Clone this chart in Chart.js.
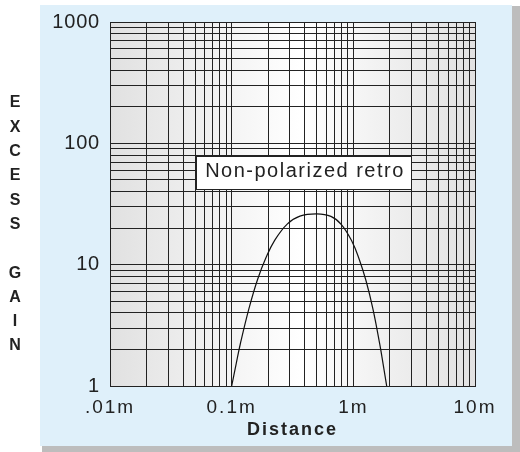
<!DOCTYPE html>
<html><head><meta charset="utf-8">
<script src="https://cdn.jsdelivr.net/npm/chart.js@4/dist/chart.umd.min.js"></script>
<style>html,body{margin:0;padding:0;background:#fff;}canvas{display:block;}</style>
</head><body>
<canvas id="c" width="520" height="452"></canvas>
<script>
// ---- data ----
const distance = [0.1, 0.109, 0.118, 0.139, 0.163, 0.192, 0.225, 0.286, 0.364, 0.5, 0.654, 0.798, 0.973, 1.11, 1.27, 1.45, 1.65, 1.76, 1.88];
const gain     = [1, 1.53, 2.24, 4.38, 7.52, 11.5, 15.8, 21.6, 25.1, 26.2, 25.0, 21.4, 15.6, 11.3, 7.4, 4.3, 2.2, 1.5, 1];
const seriesName = 'Non-polarized retro';

const xGridValues = [0.01,0.02,0.03,0.04,0.05,0.06,0.07,0.08,0.09,0.1,0.2,0.3,0.4,0.5,0.6,0.7,0.8,0.9,1,2,3,4,5,6,7,8,9,10];
const yGridValues = [1,2,3,4,5,6,7,8,9,10,20,30,40,50,60,70,80,90,100,200,300,400,500,600,700,800,900,1000];
const xLabelValues = [0.01, 0.1, 1, 10];
const xLabelTexts  = ['.01m', '0.1m', '1m', '10m'];
const yLabelValues = [1, 10, 100, 1000];
const yLabelTexts  = ['1', '10', '100', '1000'];
const xTitle = 'Distance';
const yTitleLetters = ['E','X','C','E','S','S','','G','A','I','N'];

const FONT = '"Liberation Sans", Arial, Helvetica, sans-serif';
const INK = '#222';

function spaced(scale, fnName, spacing) {
  const orig = scale[fnName];
  if (!orig || orig._spaced) return;
  const w = function(...args) {
    const ctx = this.ctx;
    ctx.save();
    ctx.letterSpacing = spacing;
    const r = orig.apply(this, args);
    ctx.restore();
    return r;
  };
  w._spaced = true;
  scale[fnName] = w;
}

const decor = {
  id: 'decor',
  afterLayout(chart) {
    spaced(chart.scales.x, 'drawLabels', '2px');
    spaced(chart.scales.x, 'drawTitle', '2px');
    spaced(chart.scales.y, 'drawLabels', '0.8px');
  },
  beforeDraw(chart) {
    const ctx = chart.ctx, a = chart.chartArea;
    ctx.save();
    ctx.fillStyle = '#ffffff'; ctx.fillRect(0, 0, chart.width, chart.height);
    ctx.fillStyle = '#bdbdbd'; ctx.fillRect(42, 6, 478, 446);
    ctx.fillStyle = '#dff0fa'; ctx.fillRect(40, 5, 472, 441);
    const g = ctx.createLinearGradient(a.left, 0, a.right, 0);
    g.addColorStop(0, '#e1e1e1');
    g.addColorStop(0.52, '#ffffff');
    g.addColorStop(1, '#e1e1e1');
    ctx.fillStyle = g;
    ctx.fillRect(a.left, a.top, a.right - a.left, a.bottom - a.top);
    ctx.fillStyle = INK;
    ctx.font = 'bold 16px ' + FONT;
    ctx.textAlign = 'center';
    ctx.textBaseline = 'middle';
    yTitleLetters.forEach((ch, i) => { if (ch) ctx.fillText(ch, 15, 103 + i * 24.3); });
    ctx.restore();
  },
  afterDatasetsDraw(chart, args, opts) {
    const ctx = chart.ctx;
    const cx = chart.scales.x.getPixelForValue(opts.x);
    const cy = chart.scales.y.getPixelForValue(opts.y);
    const w = 215, h = 33;
    const left = Math.round(cx - w / 2) + 0.5, top = Math.round(cy - h / 2) + 0.5;
    ctx.save();
    ctx.fillStyle = '#ffffff';
    ctx.fillRect(left, top, w, h);
    ctx.strokeStyle = INK; ctx.lineWidth = 1;
    ctx.strokeRect(left, top, w, h);
    ctx.font = '20px ' + FONT;
    ctx.letterSpacing = '1.5px';
    ctx.fillStyle = INK;
    ctx.textAlign = 'center';
    ctx.textBaseline = 'middle';
    ctx.fillText(seriesName, cx + 1, cy - 1);
    ctx.restore();
  }
};

new Chart(document.getElementById('c'), {
  type: 'scatter',
  data: {
    datasets: [{
      label: seriesName,
      data: distance.map((d, i) => ({x: d, y: gain[i]})),
      showLine: true,
      borderColor: '#111',
      borderWidth: 1.2,
      pointRadius: 0,
      tension: 0.4,
      fill: false
    }]
  },
  options: {
    responsive: false,
    animation: false,
    devicePixelRatio: 1,
    layout: {padding: {left: 0, top: 22, right: 45, bottom: 0}},
    plugins: {
      legend: {display: false},
      tooltip: {enabled: false},
      decor: {x: 0.393, y: 57.5}
    },
    scales: {
      x: {
        type: 'logarithmic', min: 0.01, max: 10,
        afterBuildTicks: s => { s.ticks = xGridValues.map(v => ({value: v})); },
        afterFit: s => { s.height = 66; },
        grid: {color: INK, lineWidth: 1, drawTicks: false},
        border: {color: INK, width: 1},
        ticks: {
          autoSkip: false, maxRotation: 0, minRotation: 0, padding: 10, color: INK,
          font: {family: FONT, size: 19},
          callback: v => { const i = xLabelValues.indexOf(v); return i >= 0 ? xLabelTexts[i] : ''; }
        },
        title: {display: true, text: xTitle, color: INK, font: {family: FONT, size: 18, weight: 'bold'}, padding: {top: 0, bottom: 11}}
      },
      y: {
        type: 'logarithmic', min: 1, max: 1000,
        afterBuildTicks: s => { s.ticks = yGridValues.map(v => ({value: v})); },
        afterFit: s => { s.width = 110; },
        grid: {color: INK, lineWidth: 1, drawTicks: false},
        border: {color: INK, width: 1},
        ticks: {
          autoSkip: false, padding: 10, color: INK,
          font: {family: FONT, size: 20},
          callback: v => { const i = yLabelValues.indexOf(v); return i >= 0 ? yLabelTexts[i] : ''; }
        }
      }
    }
  },
  plugins: [decor]
});
</script>
</body></html>
